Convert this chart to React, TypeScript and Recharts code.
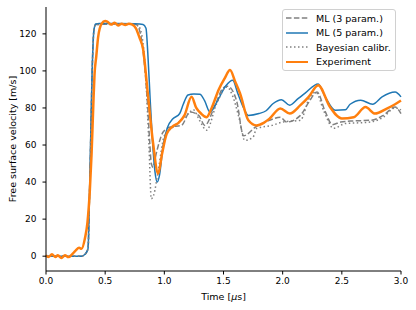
import React from 'react';
import {LineChart, Line, XAxis, YAxis, Legend} from 'recharts';

type Pt = { t: number; v: number };
const toPts = (rows: number[][]): Pt[] => rows.map(([t, v]) => ({t, v}));

// time in µs, free surface velocity in m/s
const ml3 = toPts([
    [0, 0], [0.30, 0], [0.33, 1], [0.355, 4], [0.37, 40], [0.39, 100], [0.405, 122], [0.42, 125],
    [0.6, 125.3], [0.76, 125], [0.79, 122], [0.83, 105], [0.86, 80], [0.877, 61], [0.89, 50],
    [0.905, 48], [0.93, 55], [0.99, 67], [1.05, 69.7], [1.145, 70.6], [1.216, 77.8], [1.29, 76],
    [1.343, 70.6], [1.42, 80], [1.50, 91], [1.535, 91.7], [1.61, 84], [1.67, 65], [1.77, 69.7],
    [1.89, 73.4], [1.98, 75], [2.035, 72.4], [2.15, 76], [2.22, 83], [2.29, 88.6], [2.36, 78],
    [2.42, 71], [2.49, 72.4], [2.6, 73], [2.75, 73.4], [2.85, 76], [2.95, 80.5], [3.0, 77],
]);

const ml5 = toPts([
    [0, 0], [0.30, 0], [0.33, 1], [0.355, 4], [0.37, 40], [0.39, 100], [0.405, 122], [0.42, 125.3],
    [0.45, 125.6], [0.6, 125.6], [0.75, 125.4], [0.82, 125], [0.845, 123], [0.86, 110], [0.88, 85],
    [0.90, 62], [0.92, 46], [0.94, 40], [0.96, 44], [0.99, 60], [1.03, 70], [1.07, 74], [1.13, 77],
    [1.16, 82], [1.20, 87], [1.25, 87.5], [1.30, 87.4], [1.34, 84], [1.385, 77.8], [1.45, 84],
    [1.52, 92], [1.578, 95], [1.62, 88], [1.67, 80], [1.71, 76], [1.80, 77], [1.86, 78.5],
    [1.92, 82.4], [1.99, 84.5], [2.06, 81.5], [2.13, 85], [2.19, 88], [2.30, 93], [2.36, 86],
    [2.445, 78.8], [2.53, 79], [2.57, 82], [2.66, 84.2], [2.76, 82], [2.84, 86], [2.95, 88.6], [3.0, 86],
]);

const bayes = toPts([
    [0, 0], [0.30, 0], [0.33, 1], [0.355, 4], [0.37, 40], [0.39, 100], [0.405, 122], [0.42, 125],
    [0.6, 125.3], [0.77, 125], [0.80, 122], [0.84, 100], [0.87, 60], [0.89, 31], [0.91, 33],
    [0.948, 46], [1.0, 65], [1.075, 69.7], [1.19, 76], [1.245, 79], [1.30, 73], [1.357, 68],
    [1.44, 82], [1.53, 91.3], [1.58, 86], [1.63, 75], [1.68, 62.5], [1.75, 64.3], [1.78, 68.9],
    [1.91, 70.6], [2.0, 72.4], [2.15, 73.4], [2.23, 86], [2.28, 88.5], [2.35, 78], [2.43, 69],
    [2.53, 71.6], [2.65, 72], [2.75, 72.5], [2.85, 75], [2.95, 80], [3.0, 79],
]);

const experiment = toPts([
    [0, 0.5], [0.02, -0.5], [0.05, 1], [0.08, -0.5], [0.1, 0.5], [0.13, -1], [0.16, 0.5], [0.19, -0.5],
    [0.22, 1], [0.25, 3], [0.28, 4.5], [0.30, 4], [0.33, 10], [0.35, 18], [0.37, 35], [0.385, 55],
    [0.40, 82], [0.41, 98], [0.425, 108], [0.44, 118], [0.47, 125.5], [0.50, 127], [0.52, 126.5], [0.55, 125],
    [0.58, 126], [0.61, 124.5], [0.64, 125.5], [0.67, 124.8], [0.70, 125.5], [0.73, 125], [0.76, 123],
    [0.79, 118], [0.82, 112], [0.86, 88], [0.905, 61], [0.948, 44.5], [0.98, 55], [1.02, 66],
    [1.07, 70], [1.12, 72], [1.17, 76], [1.23, 86], [1.27, 80], [1.31, 77], [1.357, 75], [1.40, 80],
    [1.46, 90], [1.51, 96], [1.555, 100.5], [1.6, 94], [1.64, 87.8], [1.71, 73.4], [1.78, 70.6],
    [1.84, 72], [1.89, 74.3], [1.98, 79.7], [2.06, 77], [2.15, 81.5], [2.22, 86], [2.30, 92.3],
    [2.40, 80.5], [2.50, 74.3], [2.60, 75], [2.70, 80.5], [2.78, 77], [2.88, 79.7], [2.95, 82], [3.0, 84],
]);

const xTicks = [0, 0.5, 1.0, 1.5, 2.0, 2.5, 3.0];
const yTicks = [0, 20, 40, 60, 80, 100, 120];

const FONT = 'DejaVu Sans';
const tickStyle = {fontSize: 9, fill: '#000', fontFamily: FONT};

const legendItems = [
    {name: 'ML (3 param.)', color: 'gray', dash: '5.5 2.4', width: 1.5},
    {name: 'ML (5 param.)', color: '#1f77b4', dash: undefined, width: 1.5},
    {name: 'Bayesian calibr.', color: 'gray', dash: '1.5 2.5', width: 1.5},
    {name: 'Experiment', color: '#ff7f0e', dash: undefined, width: 2},
];

const LegendBox = () => (
    <div style={{
        border: '1px solid #d0d0d0', borderRadius: 3, background: 'rgba(255,255,255,0.8)',
        padding: '1px 4px 1px 3px', fontFamily: FONT, fontSize: 9.5, color: '#000',
    }}>
        {legendItems.map(it => (
            <div key={it.name} style={{display: 'flex', alignItems: 'center', height: 14.5}}>
                <svg width={22} height={10} style={{marginRight: 8}}>
                    <line x1={0} y1={5} x2={22} y2={5} stroke={it.color} strokeWidth={it.width}
                          strokeDasharray={it.dash}/>
                </svg>
                <span>{it.name}</span>
            </div>
        ))}
    </div>
);

export default function App() {
    return (
        <div style={{position: 'absolute', left: 0, top: 0}}>
            <LineChart width={416} height={310} margin={{top: 7, right: 15, left: 0, bottom: 0}}>
                <XAxis xAxisId="top" orientation="top" dataKey="t" type="number" domain={[0, 3]}
                       height={0} tick={false} tickLine={false} axisLine={{stroke: '#000'}}/>
                <YAxis yAxisId="right" orientation="right" type="number" domain={[-8, 134.5]}
                       width={0} tick={false} tickLine={false} axisLine={{stroke: '#000'}}/>
                <XAxis dataKey="t" type="number" domain={[0, 3]} ticks={xTicks} height={39}
                       tickFormatter={(v: number) => v.toFixed(1)} tick={tickStyle}
                       tickSize={3.5} tickMargin={3} axisLine={{stroke: '#000'}} tickLine={{stroke: '#000'}}
                       label={{
                           content: () => (
                               <text x={223.5} y={296} textAnchor="middle" dominantBaseline="central"
                                     fontSize={9.5} fontFamily={FONT} fill="#000">
                                   Time [<tspan fontStyle="italic">μ</tspan>s]
                               </text>
                           ),
                       }}/>
                <YAxis type="number" domain={[-8, 134.5]} ticks={yTicks} width={46} tick={tickStyle}
                       tickSize={3.5} tickMargin={6} axisLine={{stroke: '#000'}} tickLine={{stroke: '#000'}}
                       label={{
                           content: () => (
                               <text x={12} y={139} transform="rotate(-90 12 139)" textAnchor="middle"
                                     dominantBaseline="central" fontSize={9.5} fontFamily={FONT} fill="#000">
                                   Free surface velocity [m/s]
                               </text>
                           ),
                       }}/>
                <Line data={ml3} dataKey="v" name="ML (3 param.)" type="monotone" stroke="gray" strokeWidth={1.5}
                      strokeDasharray="5.5 2.4" dot={false} isAnimationActive={false}/>
                <Line data={ml5} dataKey="v" name="ML (5 param.)" type="monotone" stroke="#1f77b4" strokeWidth={1.5}
                      dot={false} isAnimationActive={false}/>
                <Line data={bayes} dataKey="v" name="Bayesian calibr." type="monotone" stroke="gray" strokeWidth={1.5}
                      strokeDasharray="1.5 2.5" dot={false} isAnimationActive={false}/>
                <Line data={experiment} dataKey="v" name="Experiment" type="monotone" stroke="#ff7f0e" strokeWidth={2.5}
                      dot={false} isAnimationActive={false}/>
                <Legend layout="vertical" align="center" verticalAlign="middle" content={<LegendBox/>}
                        wrapperStyle={{position: 'absolute', top: 9, left: 282, width: 114}}/>
            </LineChart>
        </div>
    );
}
